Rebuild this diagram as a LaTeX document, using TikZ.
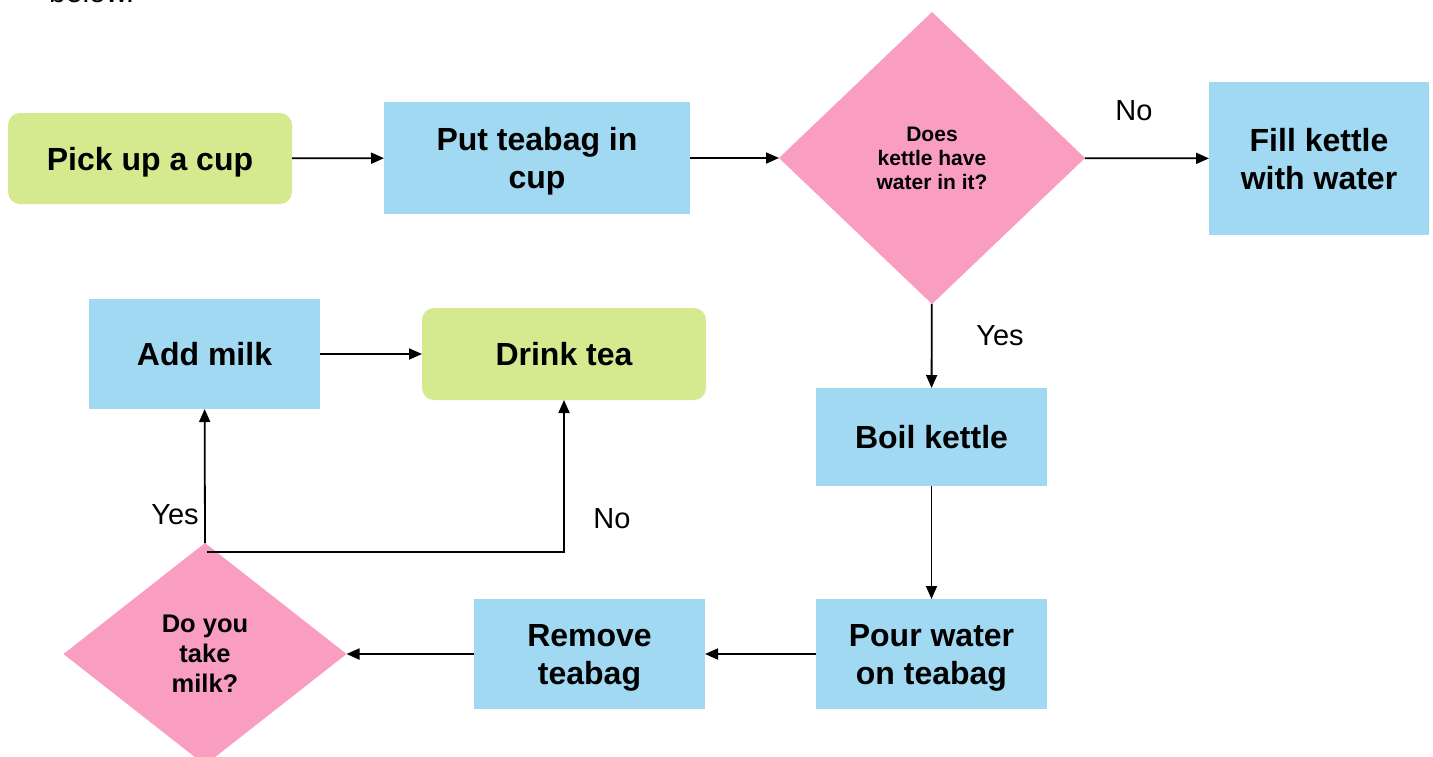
\documentclass[tikz,border=0pt]{standalone}
\usepackage{fontspec}
\setmainfont{Liberation Sans}
\usetikzlibrary{shapes.geometric,arrows.meta}
\definecolor{boxblue}{RGB}{160,217,241}
\definecolor{boxgreen}{RGB}{213,233,143}
\definecolor{boxpink}{RGB}{249,158,192}
\newcommand\dnbox[1]{\raisebox{-4pt}[\height][\depth]{\begin{tabular}{@{}c@{}}#1\end{tabular}}}
\tikzset{
  procbox/.style={rectangle,fill=boxblue,draw=none,inner sep=0pt,outer sep=0pt,align=center,
    font=\bfseries\fontsize{32}{38}\selectfont},
  termbox/.style={rectangle,rounded corners=12pt,fill=boxgreen,draw=none,inner sep=0pt,outer sep=0pt,align=center,
    font=\bfseries\fontsize{32}{38}\selectfont},
  decbox/.style={diamond,fill=boxpink,draw=none,inner sep=0pt,outer sep=0pt,align=center},
  conn/.style={line width=1.8pt,-{Triangle[length=13pt,width=11pt]}},
  lbl/.style={font=\fontsize{29}{34}\selectfont,inner sep=0pt}
}
\begin{document}
\begin{tikzpicture}[x=1pt,y=-1pt]
\useasboundingbox (0,0) rectangle (1433,756);
\begin{scope}
\clip (0,0) rectangle (1433,756);
\node[anchor=base west,inner sep=0pt,font=\fontsize{30}{34}\selectfont] (below) at (49,2) {below.};
\node[decbox,minimum width=283pt,minimum height=222pt,font=\bfseries\fontsize{25.5}{30}\selectfont] (q2) at (205,654) {Do you\\take\\milk?};
\end{scope}
\node[termbox,minimum width=284pt,minimum height=91pt] (pick) at (150,158.5) {\dnbox{Pick up a cup}};
\node[procbox,minimum width=306pt,minimum height=112pt] (put) at (537,158) {\dnbox{Put teabag in\\cup}};
\node[decbox,minimum width=306pt,minimum height=292pt,font=\bfseries\fontsize{21}{24}\selectfont] (q1) at (932,158) {Does\\kettle have\\water in it?};
\node[procbox,minimum width=220pt,minimum height=153pt] (fill) at (1319,158.5) {\dnbox{Fill kettle\\with water}};
\node[procbox,minimum width=231pt,minimum height=98pt] (boil) at (931.5,437) {\dnbox{Boil kettle}};
\node[procbox,minimum width=231pt,minimum height=110pt] (pour) at (931.5,654) {\dnbox{Pour water\\on teabag}};
\node[procbox,minimum width=231pt,minimum height=110pt] (remove) at (589.5,654) {\dnbox{Remove\\teabag}};
\node[procbox,minimum width=231pt,minimum height=110pt] (addmilk) at (204.5,354) {\dnbox{Add milk}};
\node[termbox,minimum width=284pt,minimum height=92pt] (drink) at (564,354) {\dnbox{Drink tea}};

\draw[conn] (pick) -- (put);
\draw[conn] (put) -- (q1);
\draw[conn] (q1) -- (fill);
\draw[conn] (q1) -- (boil);
\draw[conn] (boil) -- (pour);
\draw[conn] (pour) -- (remove);
\draw[conn] (remove.west) -- (q2.east);
\draw[conn] (q2.north) -- (addmilk);
\draw[conn] (addmilk) -- (drink);
\coordinate (split) at ([xshift=2pt,yshift=-9pt]q2.north);
\draw[conn] (split) -| (drink.south);

\node[lbl] (no1) at (1134,111) {No};
\node[lbl] (yes1) at (1000,336) {Yes};
\node[lbl] (yes2) at (175,515) {Yes};
\node[lbl] (no2) at (612,519) {No};
\end{tikzpicture}
\end{document}
